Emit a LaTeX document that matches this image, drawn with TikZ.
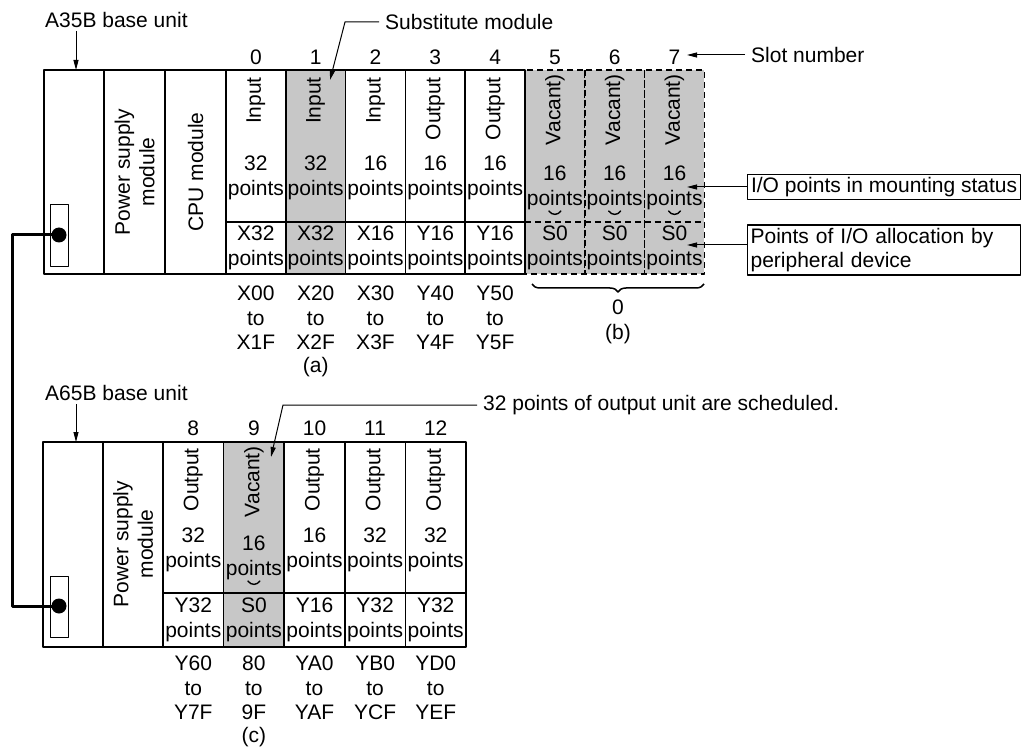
\documentclass[tikz,border=0pt]{standalone}
\usepackage{fontspec}
\setmainfont{Liberation Sans}
\usetikzlibrary{arrows.meta,decorations.pathreplacing,positioning}

\definecolor{shade}{gray}{0.78}
\tikzset{
  txt/.style={font=\fontsize{21}{24.5}\selectfont, inner sep=0pt, align=center},
  boxline/.style={line width=1.5pt},
  substbox/.style={line width=1.5pt, fill=shade},
  vacant/.style={line width=1.5pt, dash pattern=on 6pt off 4pt, fill=shade},
  arr/.style={line width=1pt, -{Triangle[length=10pt,width=5pt]}},
  cable/.style={line width=3pt},
  infobox/.style={txt, draw, line width=1.2pt, align=left, anchor=west,
    inner xsep=3pt, inner ysep=3pt, minimum width=273pt},
  bow/.style={line width=1.4pt, line cap=round},
}

\begin{document}
\begin{tikzpicture}[x=1pt, y=-1pt, line join=round]
    \useasboundingbox (0,0) rectangle (1028,751);

    % A35B base unit
    \foreach \i in {5,6,7} {
        \pgfmathsetmacro\xl{226+59.8*\i}
        \pgfmathsetmacro\xc{\xl+29.9}
        \draw[vacant] (\xl,70) rectangle ++(59.8,204);
        \draw[vacant] (\xl,222) -- ++(59.8,0);
        \node[txt] (n\i) at (\xc,57) {\i};
        \node[txt, rotate=90, anchor=east] (k\i) at (\xc,74) {Vacant)};
        \node[txt] (p\i) at (\xc,188) {16\\points};
        \draw[bow] (\xc-6,211) .. controls (\xc-3,215.5) and (\xc+3,215.5) .. (\xc+6,211);
        \node[txt] (q\i) at (\xc,248) {S0\\points};
    }
    \draw[boxline] (44,70) rectangle (226,274);
    \draw[boxline] (104,70) -- (104,274) (165,70) -- (165,274);
    \foreach \i/\sty/\kind/\pts/\alloc/\adrA/\adrB in {
        0/boxline/Input/32/X32/X00/X1F, 1/substbox/Input/32/X32/X20/X2F,
        2/boxline/Input/16/X16/X30/X3F, 3/boxline/Output/16/Y16/Y40/Y4F,
        4/boxline/Output/16/Y16/Y50/Y5F} {
        \pgfmathsetmacro\xl{226+59.8*\i}
        \pgfmathsetmacro\xc{\xl+29.9}
        \draw[\sty] (\xl,70) rectangle ++(59.8,204);
        \draw[boxline] (\xl,222) -- ++(59.8,0);
        \node[txt] (n\i) at (\xc,57) {\i};
        \node[txt, rotate=90, anchor=east] (k\i) at (\xc,77) {\kind};
        \node[txt] (p\i) at (\xc,178) {\pts\\points};
        \node[txt] (q\i) at (\xc,248) {\alloc\\points};
        \node[txt] (r\i) at (\xc,318) {\adrA\\to\\\adrB};
    }
    \node[txt, rotate=90] (psA) at (134.5,172) {Power supply\\module};
    \node[txt, rotate=90] (cpu) at (195.5,172) {CPU module};
    \node[txt] (la) at (r1 |- 0,367) {(a)};
    \draw[boxline, decorate, decoration={brace, amplitude=8pt}] (704,284) -- (532,284);
    \node[txt] (lb) at (618,322) {0\\(b)};

    \draw[line width=0.9pt] (50,204) rectangle (68,266);
    \coordinate (dotA) at (59,235);

    % A65B base unit
    \draw[boxline] (43,442) rectangle (163,647);
    \draw[boxline] (103,442) -- (103,647);
    \foreach \j/\n/\pts/\alloc/\adrA/\adrB in {
        0/8/32/Y32/Y60/Y7F, 2/10/16/Y16/YA0/YAF,
        3/11/32/Y32/YB0/YCF, 4/12/32/Y32/YD0/YEF} {
        \pgfmathsetmacro\xl{163+60.6*\j}
        \pgfmathsetmacro\xc{\xl+30.3}
        \draw[boxline] (\xl,442) rectangle ++(60.6,205);
        \draw[boxline] (\xl,593) -- ++(60.6,0);
        \node[txt] (n\n) at (\xc,428) {\n};
        \node[txt, rotate=90, anchor=east] (k\n) at (\xc,448) {Output};
        \node[txt] (p\n) at (\xc,550) {\pts\\points};
        \node[txt] (q\n) at (\xc,620) {\alloc\\points};
        \node[txt] (r\n) at (\xc,688) {\adrA\\to\\\adrB};
    }
    \draw[substbox] (223.6,442) rectangle ++(60.6,205);
    \draw[boxline] (223.6,593) -- ++(60.6,0);
    \node[txt] (n9) at (253.9,428) {9};
    \node[txt, rotate=90, anchor=east] (k9) at (253.9,446) {Vacant)};
    \node[txt] (p9) at (253.9,558) {16\\points};
    \draw[bow] (247.9,581) .. controls (250.9,585.5) and (256.9,585.5) .. (259.9,581);
    \node[txt] (q9) at (253.9,620) {S0\\points};
    \node[txt] (r9) at (253.9,688) {80\\to\\9F};
    \node[txt] (lc) at (253.9,737) {(c)};
    \node[txt, rotate=90] (psB) at (133,544) {Power supply\\module};

    \draw[line width=0.9pt] (50,576) rectangle (68,637);
    \coordinate (dotB) at (59,606);

    % cable between the base units
    \coordinate (cablex) at (12,0);
    \draw[cable] (dotA) -- (dotA -| cablex) -- (dotB -| cablex) -- (dotB);
    \fill (dotA) circle (7.5pt);
    \fill (dotB) circle (7.5pt);

    % callouts
    \node[txt, anchor=west] (a35b) at (45,20) {A35B base unit};
    \coordinate (a35b-tip) at (76,70);
    \draw[arr, shorten <=3pt] (a35b-tip |- a35b.south) -- (a35b-tip);

    \node[txt, anchor=west] (subst) at (385,22) {Substitute module};
    \coordinate (subst-bend) at (345,22);
    \coordinate (subst-tip) at (330,80);
    \draw[arr, shorten <=6pt] (subst.west) -- (subst-bend) -- (subst-tip);

    \node[txt, anchor=west] (slotno) at (751,55) {Slot number};
    \coordinate (slotno-tip) at (687,55);
    \draw[arr, shorten <=6pt] (slotno.west) -- (slotno-tip);

    \node[infobox] (mount) at (747,187) {I/O points in mounting status};
    \coordinate (mount-tip) at (687,187);
    \draw[arr] (mount.west) -- (mount-tip);

    \node[infobox, text width=267pt] (allocbox) at (747,250) {Points of I/O allocation by\\peripheral device};
    \coordinate (alloc-tip) at (687,245);
    \draw[arr] (allocbox.west |- alloc-tip) -- (alloc-tip);

    \node[txt, anchor=west] (a65b) at (45,393) {A65B base unit};
    \coordinate (a65b-tip) at (76,442);
    \draw[arr, shorten <=3pt] (a65b-tip |- a65b.south) -- (a65b-tip);

    \node[txt, anchor=west] (sched) at (483,405) {32 points of output unit are scheduled.};
    \coordinate (sched-bend) at (283,405);
    \coordinate (sched-tip) at (271,457);
    \draw[arr, shorten <=6pt] (sched.west) -- (sched-bend) -- (sched-tip);
\end{tikzpicture}
\end{document}
